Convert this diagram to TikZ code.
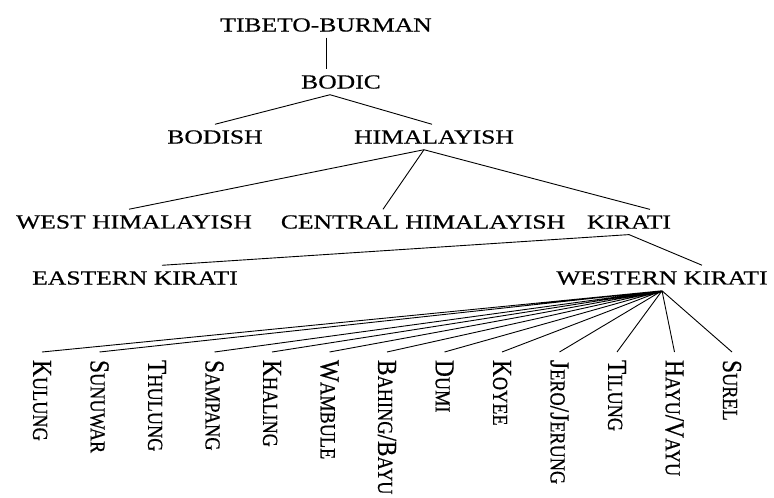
\documentclass[tikz,border=0pt]{standalone}
\usepackage{fontspec}
\setmainfont{Liberation Serif}
\newfontfamily\treefont[FakeStretch=1.28, FakeBold=0.5]{Liberation Serif}
\newfontfamily\leaffont[FakeStretch=0.85, FakeBold=0.5]{Liberation Serif}
\newcommand{\lsc}[1]{{\fontsize{21.5}{24}\selectfont #1}}
\tikzset{
  lang/.style={font=\treefont\fontsize{20}{24}\selectfont, inner sep=2pt, outer sep=4pt},
  leaf/.style={font=\leaffont\fontsize{27.5}{30}\selectfont, rotate=-90, anchor=west, inner sep=1pt, outer sep=7pt},
  branch/.style={line width=0.9pt}
}
\begin{document}
\begin{tikzpicture}[x=1pt, y=-1pt]
  \useasboundingbox (0,0) rectangle (774,498);

  % Upper levels
  \node[lang] (tb) at (326,25) {TIBETO-BURMAN};
  \node[lang] (bodic) at (341,82) {BODIC};
  \node[lang] (bodish) at (215,137) {BODISH};
  \node[lang] (himal) at (434,137) {HIMALAYISH};
  \node[lang] (west) at (134,222) {WEST HIMALAYISH};
  \node[lang] (central) at (423,222) {CENTRAL HIMALAYISH};
  \node[lang] (kirati) at (629,222) {KIRATI};
  \node[lang] (eastern) at (135,278) {EASTERN KIRATI};
  \node[lang] (western) at (662,278) {WESTERN KIRATI};

  % Western Kirati languages
  \node[leaf] (kulung) at (42,352) {K\lsc{ULUNG}};
  \node[leaf] (sunuwar) at (99.5,352) {S\lsc{UNUWAR}};
  \node[leaf] (thulung) at (157,352) {T\lsc{HULUNG}};
  \node[leaf] (sampang) at (214.5,352) {S\lsc{AMPANG}};
  \node[leaf] (khaling) at (272,352) {K\lsc{HALING}};
  \node[leaf] (wambule) at (329.5,352) {W\lsc{AMBULE}};
  \node[leaf] (bahing) at (387,352) {B\lsc{AHING}/B\lsc{AYU}};
  \node[leaf] (dumi) at (444.5,352) {D\lsc{UMI}};
  \node[leaf] (koyee) at (502,352) {K\lsc{OYEE}};
  \node[leaf] (jero) at (559.5,352) {J\lsc{ERO}/J\lsc{ERUNG}};
  \node[leaf] (tilung) at (617,352) {T\lsc{ILUNG}};
  \node[leaf] (hayu) at (674.5,352) {H\lsc{AYU}/V\lsc{AYU}};
  \node[leaf] (surel) at (732,352) {S\lsc{UREL}};

  % Branches
  \coordinate (bodicfoot) at ([xshift=-11pt]bodic.south);
  \coordinate (himalfoot) at ([xshift=-10pt]himal.south);
  \draw[branch] (tb.south) -- (tb.south |- bodic.north);
  \draw[branch] (bodicfoot) -- (bodish.north);
  \draw[branch] (bodicfoot) -- ([xshift=-2pt]himal.north);
  \draw[branch] (himalfoot) -- ([xshift=-5pt]west.north);
  \draw[branch] (himalfoot) -- ([xshift=-40pt]central.north);
  \draw[branch] (himalfoot) -- ([xshift=21pt]kirati.north);
  \draw[branch] (kirati.south) -- ([xshift=27pt]eastern.north);
  \draw[branch] (kirati.south) -- ([xshift=40pt]western.north);

  % Fan below Western Kirati
  \draw[branch] (western.south) -- (kulung.west)
    (western.south) -- (sunuwar.west)
    (western.south) -- (sampang.west)
    (western.south) -- (khaling.west)
    (western.south) -- (wambule.west)
    (western.south) -- (bahing.west)
    (western.south) -- (dumi.west)
    (western.south) -- (koyee.west)
    (western.south) -- (jero.west)
    (western.south) -- (tilung.west)
    (western.south) -- (hayu.west)
    (western.south) -- (surel.west);
\end{tikzpicture}
\end{document}
